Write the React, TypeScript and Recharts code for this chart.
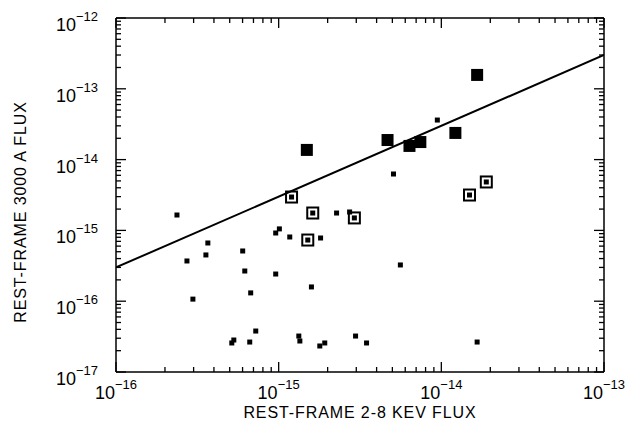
import { ScatterChart, Scatter, XAxis, YAxis } from 'recharts';

// Bright sources (large filled squares)
const bigX = [1.49e-15, 4.67e-15, 6.37e-15, 7.43e-15, 1.22e-14, 1.66e-14];
const bigY = [1.37e-14, 1.89e-14, 1.56e-14, 1.77e-14, 2.38e-14, 1.57e-13];

// Boxed sources (open square with a dot inside)
const boxX = [1.2e-15, 1.62e-15, 2.92e-15, 1.51e-15, 1.89e-14, 1.49e-14];
const boxY = [2.96e-15, 1.76e-15, 1.5e-15, 7.31e-16, 4.83e-15, 3.16e-15];

// Faint sources (small squares)
const smallX = [
  2.37e-16, 2.73e-16, 3.57e-16, 3.67e-16, 2.97e-16, 6.01e-16, 6.19e-16, 6.73e-16,
  9.59e-16, 1.01e-15, 1.17e-15, 9.59e-16, 1.81e-15, 2.27e-15, 2.73e-15, 1.59e-15,
  7.23e-16, 5.3e-16, 5.15e-16, 6.64e-16, 1.33e-15, 1.35e-15, 1.92e-15, 1.79e-15,
  2.97e-15, 3.47e-15, 9.45e-15, 5.08e-15, 5.6e-15, 1.66e-14,
];
const smallY = [
  1.65e-15, 3.7e-16, 4.5e-16, 6.64e-16, 1.07e-16, 5.12e-16, 2.67e-16, 1.31e-16,
  9.19e-16, 1.05e-15, 8.07e-16, 2.42e-16, 7.81e-16, 1.76e-15, 1.82e-15, 1.59e-16,
  3.79e-17, 2.83e-17, 2.57e-17, 2.65e-17, 3.22e-17, 2.74e-17, 2.57e-17, 2.33e-17,
  3.22e-17, 2.57e-17, 3.62e-14, 6.26e-15, 3.25e-16, 2.65e-17,
];

// Fitted relation
const fitX = [1e-16, 1e-13];
const fitY = [3.0e-16, 3.0e-13];

const xDecades = [-16, -15, -14, -13];
const yDecades = [-17, -16, -15, -14, -13, -12];
const minorSteps = [1, 2, 3, 4, 5, 6, 7, 8, 9];

const toPoints = (xs: number[], ys: number[]) => xs.map((x, i) => ({ x, y: ys[i] }));

const buildTicks = (decades: number[]) => {
  const out: number[] = [];
  decades.forEach((d, i) => {
    if (i === decades.length - 1) {
      out.push(Math.pow(10, d));
      return;
    }
    minorSteps.forEach((m) => out.push(m * Math.pow(10, d)));
  });
  return out;
};

const xTicks = buildTicks(xDecades);
const yTicks = buildTicks(yDecades);

const FONT = 'Liberation Sans, Arial, sans-serif';

const exponentOf = (v: number) => Math.round(Math.log10(v));
const isMajor = (v: number) => Math.abs(Math.log10(v) - exponentOf(v)) < 1e-6;

const Power = ({ v }: { v: number }) => (
  <>
    <tspan fontSize={18}>10</tspan>
    <tspan fontSize={13} dy={-10}>{'\u2212' + Math.abs(exponentOf(v))}</tspan>
  </>
);

const XTick = (props: any) => {
  const { x, y, payload, side } = props;
  const v = payload.value;
  const major = isMajor(v);
  const len = major ? 10 : 5;
  const dir = side === 'bottom' ? -1 : 1;
  return (
    <g>
      <line x1={x} x2={x} y1={y} y2={y + dir * len} stroke="#000" strokeWidth={1.3} />
      {side === 'bottom' && major && (
        <text x={x} y={y + 27} textAnchor="middle" fontFamily={FONT} fill="#000">
          <Power v={v} />
        </text>
      )}
    </g>
  );
};

const YTick = (props: any) => {
  const { x, y, payload, side } = props;
  const v = payload.value;
  const major = isMajor(v);
  const len = major ? 10 : 5;
  const dir = side === 'left' ? 1 : -1;
  return (
    <g>
      <line x1={x} x2={x + dir * len} y1={y} y2={y} stroke="#000" strokeWidth={1.3} />
      {side === 'left' && major && (
        <text x={x - 18} y={y + 13} textAnchor="end" fontFamily={FONT} fill="#000">
          <Power v={v} />
        </text>
      )}
    </g>
  );
};

const BigSquare = (props: any) => {
  const { cx, cy } = props;
  return <rect x={cx - 6} y={cy - 6} width={12} height={12} fill="#000" />;
};

const BoxSquare = (props: any) => {
  const { cx, cy } = props;
  return (
    <g>
      <rect x={cx - 5.5} y={cy - 5.5} width={11} height={11} fill="none" stroke="#000" strokeWidth={2} />
      <rect x={cx - 2.5} y={cy - 2.5} width={5} height={5} fill="#000" />
    </g>
  );
};

const SmallSquare = (props: any) => {
  const { cx, cy } = props;
  return <rect x={cx - 2.5} y={cy - 2.5} width={5} height={5} fill="#000" />;
};

const NoMark = () => <g />;

const titleStyle = { fontFamily: FONT, fontSize: 16, fill: '#000', letterSpacing: 0.9 };

export default function App() {
  return (
    <div style={{ position: 'absolute', left: 0, top: 0, background: '#fff' }}>
      <ScatterChart width={639} height={432} margin={{ top: 0, right: 0, bottom: 0, left: 0 }}>
        <XAxis
          xAxisId="b"
          dataKey="x"
          type="number"
          scale="log"
          domain={[1e-16, 1e-13]}
          allowDataOverflow
          ticks={xTicks}
          interval={0}
          height={60}
          tickSize={0}
          tickMargin={0}
          tickLine={false}
          axisLine={{ stroke: '#000', strokeWidth: 1.5 }}
          tick={<XTick side="bottom" />}
          label={() => (
            <text x={360} y={418} textAnchor="middle" style={titleStyle}>
              REST-FRAME 2-8 KEV FLUX
            </text>
          )}
        />
        <XAxis
          xAxisId="t"
          orientation="top"
          dataKey="x"
          type="number"
          scale="log"
          domain={[1e-16, 1e-13]}
          allowDataOverflow
          ticks={xTicks}
          interval={0}
          height={18}
          tickSize={0}
          tickMargin={0}
          tickLine={false}
          axisLine={{ stroke: '#000', strokeWidth: 1.5 }}
          tick={<XTick side="top" />}
        />
        <YAxis
          yAxisId="l"
          dataKey="y"
          type="number"
          scale="log"
          domain={[1e-17, 1e-12]}
          allowDataOverflow
          ticks={yTicks}
          interval={0}
          width={116}
          tickSize={0}
          tickMargin={0}
          tickLine={false}
          axisLine={{ stroke: '#000', strokeWidth: 1.5 }}
          tick={<YTick side="left" />}
          label={() => (
            <text x={26} y={212} textAnchor="middle" transform="rotate(-90 26 212)" style={titleStyle}>
              REST-FRAME 3000 A FLUX
            </text>
          )}
        />
        <YAxis
          yAxisId="r"
          orientation="right"
          dataKey="y"
          type="number"
          scale="log"
          domain={[1e-17, 1e-12]}
          allowDataOverflow
          ticks={yTicks}
          interval={0}
          width={35}
          tickSize={0}
          tickMargin={0}
          tickLine={false}
          axisLine={{ stroke: '#000', strokeWidth: 1.5 }}
          tick={<YTick side="right" />}
        />
        <Scatter
          xAxisId="b"
          yAxisId="l"
          data={toPoints(fitX, fitY)}
          line={{ stroke: '#000', strokeWidth: 2 }}
          shape={NoMark}
          isAnimationActive={false}
        />
        <Scatter xAxisId="b" yAxisId="l" data={toPoints(smallX, smallY)} shape={SmallSquare} isAnimationActive={false} />
        <Scatter xAxisId="b" yAxisId="l" data={toPoints(boxX, boxY)} shape={BoxSquare} isAnimationActive={false} />
        <Scatter xAxisId="b" yAxisId="l" data={toPoints(bigX, bigY)} shape={BigSquare} isAnimationActive={false} />
      </ScatterChart>
    </div>
  );
}
